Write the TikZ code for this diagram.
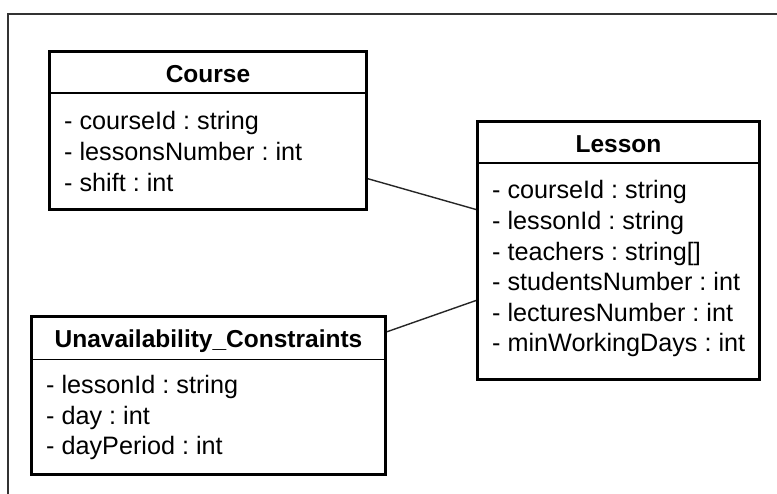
\documentclass[tikz,border=0pt]{standalone}
\usepackage{fontspec}
\setmainfont{Liberation Sans}
\frenchspacing
\begin{document}
\begin{tikzpicture}[x=1pt,y=-1pt,
  classbox/.style={draw=black, line width=3pt, inner sep=0pt, anchor=north west},
  classtitle/.style={font=\bfseries\fontsize{24.5}{30}\selectfont, inner sep=0pt, anchor=base},
  attr/.style={font=\fontsize{25.2}{30}\selectfont, inner sep=0pt, anchor=base west},
  sepline/.style={draw=black, line width=1.4pt},
  link/.style={draw=black!85, line width=1.4pt},
  frame/.style={draw=black!80, line width=1.5pt}]
  \clip (0,0) rectangle (777,494);
  \fill[white] (0,0) rectangle (777,494);
  % surrounding frame, open to the right and bottom
  \draw[frame] (8,520) -- (8,14) -- (800,14);

  % Course
  \node[classbox, minimum width=317pt, minimum height=158.5pt] (course) at (48,50) {};
  \node[classtitle] (course-title) at ([yshift=-33pt]course.north) {Course};
  \draw[sepline] ([yshift=-43pt]course.north west) -- ([yshift=-43pt]course.north east);
  \foreach \t [count=\i] in {- courseId : string, - lessonsNumber : int, - shift : int}
    \node[attr] (course-a\i) at ([xshift=16pt, yshift={-(80+30.6*(\i-1))*1pt}]course.north west) {\t};

  % Lesson
  \node[classbox, minimum width=282pt, minimum height=258pt] (lesson) at (476,120) {};
  \node[classtitle] (lesson-title) at ([yshift=-33pt]lesson.north) {Lesson};
  \draw[sepline] ([yshift=-43pt]lesson.north west) -- ([yshift=-43pt]lesson.north east);
  \foreach \t [count=\i] in {- courseId : string, - lessonId : string, - teachers : string[],
      - studentsNumber : int, - lecturesNumber : int, - minWorkingDays : int}
    \node[attr] (lesson-a\i) at ([xshift=16pt, yshift={-(79+30.6*(\i-1))*1pt}]lesson.north west) {\t};

  % Unavailability_Constraints
  \node[classbox, minimum width=354pt, minimum height=157.5pt] (unav) at (30,315.5) {};
  \node[classtitle] (unav-title) at ([yshift=-32pt]unav.north) {Unavailability\_Constraints};
  \draw[sepline] ([yshift=-44pt]unav.north west) -- ([yshift=-44pt]unav.north east);
  \foreach \t [count=\i] in {- lessonId : string, - day : int, - dayPeriod : int}
    \node[attr] (unav-a\i) at ([xshift=16pt, yshift={-(78+30.6*(\i-1))*1pt}]unav.north west) {\t};

  % associations
  \draw[link] ([yshift=-48pt]course.east) -- ([yshift=41pt]lesson.west);
  \draw[link] ([yshift=64pt]unav.east) -- ([yshift=-50pt]lesson.west);
\end{tikzpicture}
\end{document}
